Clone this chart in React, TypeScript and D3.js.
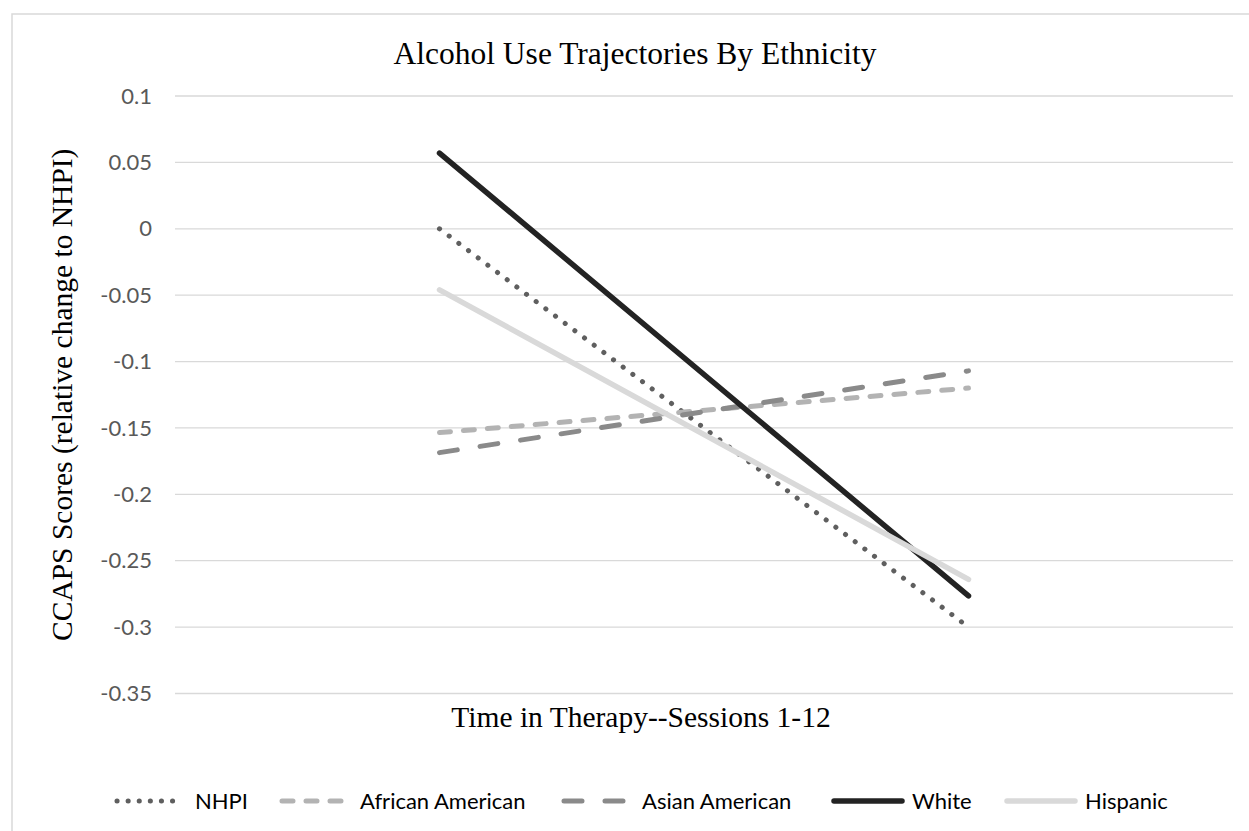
import * as d3 from "d3";

const categories = ["Session 1", "Session 12"];
const yTicks = [0.1, 0.05, 0, -0.05, -0.1, -0.15, -0.2, -0.25, -0.3, -0.35];

const seriesNames = ["NHPI", "African American", "Asian American", "White", "Hispanic"];
const nhpi = [0.0, -0.3];
const africanAmerican = [-0.1535, -0.12];
const asianAmerican = [-0.1686, -0.107];
const white = [0.057, -0.2765];
const hispanic = [-0.046, -0.264];

const W = 1249;
const H = 831;

const styles = [
  { color: "#5f5f5f", width: 5, dash: "0.1 12" },
  { color: "#b3b3b3", width: 5, dash: "11 13" },
  { color: "#8a8a8a", width: 5, dash: "18 23" },
  { color: "#232323", width: 5.5, dash: "none" },
  { color: "#d9d9d9", width: 5.5, dash: "none" },
];

const legendX = [117, 282, 564, 834, 1007];

export default function App() {
  const values = [nhpi, africanAmerican, asianAmerican, white, hispanic];

  const x = d3.scaleBand<string>().domain(categories).range([175, 1233]);
  const y = d3.scaleLinear().domain([-0.35, 0.1]).range([693.5, 96]);

  const line = d3
    .line<number>()
    .x((_, i) => x(categories[i])! + x.bandwidth() / 2)
    .y((d) => y(d));

  const serif = "'Liberation Serif', 'Times New Roman', serif";
  const sans = "Lato, 'Open Sans', sans-serif";

  return (
    <svg
      width={W}
      height={H}
      viewBox={`0 0 ${W} ${H}`}
      style={{ position: "absolute", left: 0, top: 0, background: "#fff" }}
    >
      <rect x={0} y={0} width={W} height={H} fill="#fff" />
      <rect x={12} y={14} width={1300} height={900} fill="none" stroke="#d9d9d9" strokeWidth={1.5} />

      <text x={635} y={64} textAnchor="middle" fontFamily={serif} fontSize={31.5} fill="#000">
        Alcohol Use Trajectories By Ethnicity
      </text>

      {yTicks.map((t) => (
        <g key={t}>
          <line x1={175} x2={1233} y1={y(t)} y2={y(t)} stroke="#d9d9d9" strokeWidth={1.3} />
          <text
            x={152}
            y={y(t)}
            dy="0.35em"
            textAnchor="end"
            fontFamily={sans}
            fontSize={22}
            fill="#595959"
          >
            {String(t)}
          </text>
        </g>
      ))}

      <text
        transform={`translate(72, ${(y(0.1) + y(-0.35)) / 2}) rotate(-90)`}
        textAnchor="middle"
        fontFamily={serif}
        fontSize={29.5}
        fill="#000"
      >
        CCAPS Scores (relative change to NHPI)
      </text>

      {values.map((v, i) => (
        <path
          key={seriesNames[i]}
          d={line(v)!}
          fill="none"
          stroke={styles[i].color}
          strokeWidth={styles[i].width}
          strokeDasharray={styles[i].dash}
          strokeLinecap="round"
        />
      ))}

      <text x={641} y={727} textAnchor="middle" fontFamily={serif} fontSize={29.5} fill="#000">
        Time in Therapy--Sessions 1-12
      </text>

      {seriesNames.map((name, i) => (
        <g key={name} transform={`translate(${legendX[i]}, 801)`}>
          <line
            x1={0}
            x2={i === 0 ? 66 : 68}
            y1={0}
            y2={0}
            stroke={styles[i].color}
            strokeWidth={styles[i].width}
            strokeDasharray={i === 0 ? "0.1 11" : styles[i].dash}
            strokeLinecap="round"
          />
          <text x={78} y={0} dy="0.35em" fontFamily={sans} fontSize={22} fill="#000">
            {name}
          </text>
        </g>
      ))}
    </svg>
  );
}
